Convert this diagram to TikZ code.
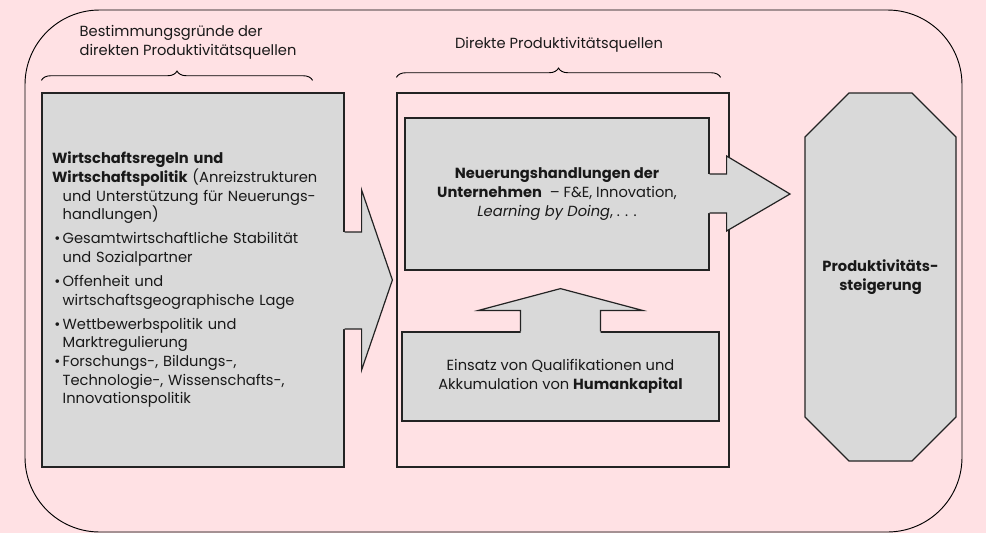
\documentclass[tikz,border=0pt]{standalone}
\usepackage{fontspec}
\setmainfont{Poppins}
\usetikzlibrary{calc,decorations.pathreplacing}
\definecolor{bgpink}{RGB}{255,225,228}
\definecolor{boxgray}{RGB}{217,217,217}
\definecolor{edgegray}{RGB}{35,35,35}
\newcommand{\itembul}{\makebox[8pt][c]{\textbullet}}
\newcommand{\itemind}{\hspace*{8pt}}
\tikzset{
  greybox/.style={draw=edgegray, line width=0.9pt, fill=boxgray, inner sep=0pt},
  framebox/.style={draw=edgegray, line width=0.9pt, inner sep=0pt},
  blockfill/.style={fill=boxgray},
  blockline/.style={draw=edgegray, line width=0.9pt, line join=miter},
  headbrace/.style={decorate, decoration={brace, amplitude=7pt}, line width=0.7pt}
}

\begin{document}
\begin{tikzpicture}[x=0.75pt, y=-0.75pt, font=\fontsize{11}{14}\selectfont, text=black!90]
% background and outer frame
\fill[bgpink] (0,0) rectangle (986,533);
\draw[line width=0.7pt, rounded corners=56pt] (25,10) rectangle (962,532);

% boxes
\node[greybox, minimum width=226.5pt, minimum height=280.5pt, text width=211.5pt, align=left] (rules) at (193,280) {%
\textbf{Wirtschaftsregeln und}\\
\textbf{Wirtschaftspolitik} (Anreizstrukturen\\
\itemind und Unterstützung für Neuerungs-\\
\itemind handlungen)\\[4pt]
\itembul Gesamtwirtschaftliche Stabilität\\
\itemind und Sozialpartner\\[4pt]
\itembul Offenheit und\\
\itemind wirtschaftsgeographische Lage\\[4pt]
\itembul Wettbewerbspolitik und\\
\itemind Marktregulierung\\
\itembul Forschungs-, Bildungs-,\\
\itemind Technologie-, Wissenschafts-,\\
\itemind Innovationspolitik};
\node[framebox, minimum width=249pt, minimum height=280.5pt] (direct) at (563,280) {};
\node[greybox, minimum width=228pt, minimum height=114pt, align=center] (innov) at (557,194) {%
\textbf{Neuerungshandlungen der}\\
\textbf{Unternehmen}\ \ -- F\&E, Innovation,\\
\textit{Learning by Doing}, . . .};
\node[greybox, minimum width=237.75pt, minimum height=66.75pt, align=center] (human) at (560.5,376.5) {%
Einsatz von Qualifikationen und\\
Akkumulation von \textbf{Humankapital}};

% octagon
\coordinate (gc) at (880.5,277);
\filldraw[fill=boxgray, draw=edgegray, line width=0.9pt]
  ($(gc)+(-31.5,-184)$) -- ($(gc)+(31.5,-184)$) -- ($(gc)+(75.5,-140)$) -- ($(gc)+(75.5,140)$)
  -- ($(gc)+(31.5,184)$) -- ($(gc)+(-31.5,184)$) -- ($(gc)+(-75.5,140)$) -- ($(gc)+(-75.5,-140)$) -- cycle;
\node[align=center] (gain) at (gc) {\textbf{Produktivitäts-}\\\textbf{steigerung}};

% headings and braces
\node[anchor=west, align=left] (headL) at (75,42.5) {Bestimmungsgründe der\\direkten Produktivitätsquellen};
\node (headM) at (559,45) {Direkte Produktivitätsquellen};
\draw[headbrace] ($(rules.north west)+(0,-12)$) -- ($(rules.north east)+(-32,-12)$);
\draw[headbrace] ($(direct.north west)+(0,-15)$) -- ($(direct.north east)+(-9,-15)$);

% block arrows
\fill[blockfill] ($(rules.east)+(-3,-48)$) -- ($(rules.east)+(17,-48)$) -- ($(rules.east)+(17,-90)$)
  -- ($(direct.west)+(-4,0)$) -- ($(rules.east)+(17,90)$) -- ($(rules.east)+(17,49)$) -- ($(rules.east)+(-3,49)$) -- cycle;
\draw[blockline] ($(rules.east)+(0,-48)$) -- ($(rules.east)+(17,-48)$) -- ($(rules.east)+(17,-90)$)
  -- ($(direct.west)+(-4,0)$) -- ($(rules.east)+(17,90)$) -- ($(rules.east)+(17,49)$) -- ($(rules.east)+(0,49)$);

\fill[blockfill] ($(innov.east)+(-3,-20)$) -- ($(innov.east)+(17,-20)$) -- ($(innov.east)+(17,-38)$)
  -- ($(gc)+(-90.5,-83)$) -- ($(innov.east)+(17,37)$) -- ($(innov.east)+(17,19)$) -- ($(innov.east)+(-3,19)$) -- cycle;
\draw[blockline] ($(innov.east)+(0,-20)$) -- ($(innov.east)+(17,-20)$) -- ($(innov.east)+(17,-38)$)
  -- ($(gc)+(-90.5,-83)$) -- ($(innov.east)+(17,37)$) -- ($(innov.east)+(17,19)$) -- ($(innov.east)+(0,19)$);

\fill[blockfill] ($(human.north)+(-40,3)$) -- ($(human.north)+(-40,-21)$) -- ($(human.north)+(-82,-21)$)
  -- ($(human.north |- innov.south)+(0,18)$) -- ($(human.north)+(82,-21)$) -- ($(human.north)+(40,-21)$) -- ($(human.north)+(40,3)$) -- cycle;
\draw[blockline] ($(human.north)+(-40,0)$) -- ($(human.north)+(-40,-21)$) -- ($(human.north)+(-82,-21)$)
  -- ($(human.north |- innov.south)+(0,18)$) -- ($(human.north)+(82,-21)$) -- ($(human.north)+(40,-21)$) -- ($(human.north)+(40,0)$);
\end{tikzpicture}
\end{document}
